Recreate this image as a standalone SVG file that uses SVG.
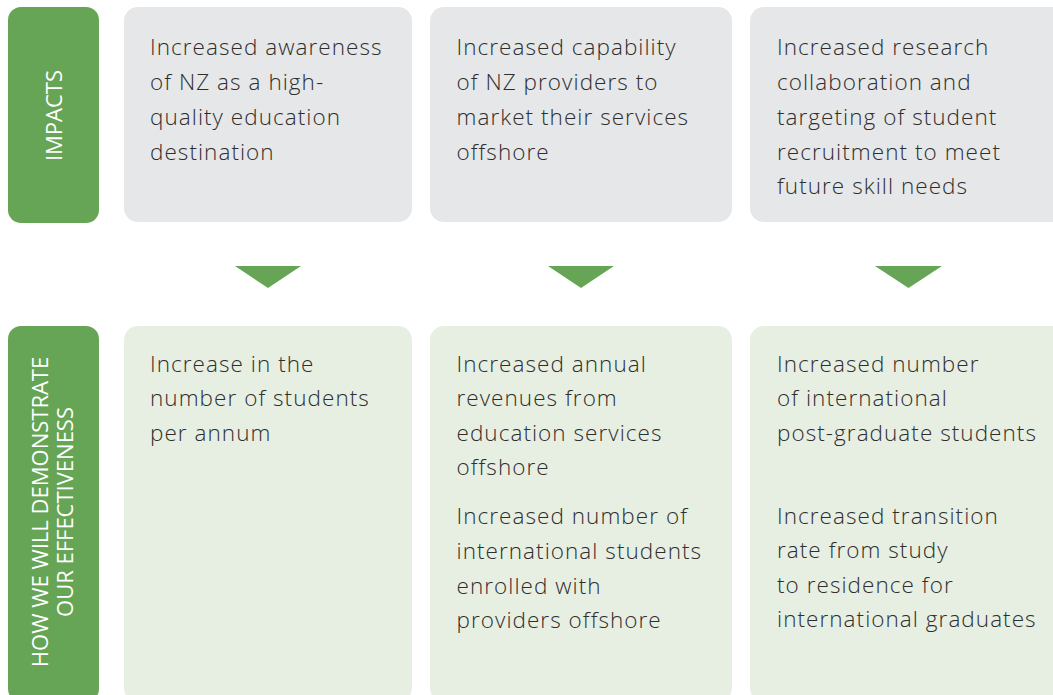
<svg xmlns="http://www.w3.org/2000/svg" width="1053" height="695" viewBox="0 0 1053 695">
<style>
.lbl{fill:#65a555}
.imp{fill:#e6e7e8}
.eff{fill:#e7efe3}
.arr{fill:#65a555}
.lt{font-family:"Open Sans","Noto Sans",sans-serif;font-size:22px;fill:#ffffff;text-anchor:middle}
.bt{font-family:"Open Sans","Noto Sans",sans-serif;font-size:22.5px;font-weight:300;letter-spacing:1.05px;fill:#2e2e2e}
</style>
<rect width="1053" height="695" fill="#ffffff"/>
<g id="label-impacts">
<rect class="lbl" x="8" y="7" width="91" height="216" rx="13"/>
<text class="lt" transform="translate(61.5 115.5) rotate(-90)">IMPACTS</text>
</g>
<g id="label-effectiveness">
<rect class="lbl" x="8" y="326" width="91" height="376" rx="13"/>
<text class="lt" transform="translate(48 512) rotate(-90)">HOW WE WILL DEMONSTRATE</text>
<text class="lt" transform="translate(73 512) rotate(-90)">OUR EFFECTIVENESS</text>
</g>
<g id="impact-1">
<rect class="imp" x="124" y="7" width="288" height="215" rx="14"/>
<text class="bt" x="150" y="55">Increased awareness</text>
<text class="bt" x="150" y="90">of NZ as a high-</text>
<text class="bt" x="150" y="125">quality education</text>
<text class="bt" x="150" y="159.5">destination</text>
</g>
<g id="impact-2">
<rect class="imp" x="430" y="7" width="302" height="215" rx="14"/>
<text class="bt" x="456.5" y="55">Increased capability</text>
<text class="bt" x="456.5" y="90">of NZ providers to</text>
<text class="bt" x="456.5" y="125">market their services</text>
<text class="bt" x="456.5" y="159.5">offshore</text>
</g>
<g id="impact-3">
<rect class="imp" x="750" y="7" width="320" height="215" rx="14"/>
<text class="bt" x="777" y="55">Increased research</text>
<text class="bt" x="777" y="90">collaboration and</text>
<text class="bt" x="777" y="125">targeting of student</text>
<text class="bt" x="777" y="159.5">recruitment to meet</text>
<text class="bt" x="777" y="194">future skill needs</text>
</g>
<g id="connectors">
<polygon class="arr" points="235,266 301,266 268,288"/>
<polygon class="arr" points="548,266 614,266 581,288"/>
<polygon class="arr" points="875,266 942,266 908.5,288"/>
</g>
<g id="measure-1">
<rect class="eff" x="124" y="326" width="288" height="376" rx="14"/>
<text class="bt" x="150" y="371.5">Increase in the</text>
<text class="bt" x="150" y="406">number of students</text>
<text class="bt" x="150" y="440.5">per annum</text>
</g>
<g id="measure-2">
<rect class="eff" x="430" y="326" width="302" height="376" rx="14"/>
<text class="bt" x="456.5" y="371.5">Increased annual</text>
<text class="bt" x="456.5" y="406">revenues from</text>
<text class="bt" x="456.5" y="440.5">education services</text>
<text class="bt" x="456.5" y="475">offshore</text>
<text class="bt" x="456.5" y="524">Increased number of</text>
<text class="bt" x="456.5" y="559">international students</text>
<text class="bt" x="456.5" y="593.5">enrolled with</text>
<text class="bt" x="456.5" y="628">providers offshore</text>
</g>
<g id="measure-3">
<rect class="eff" x="750" y="326" width="320" height="376" rx="14"/>
<text class="bt" x="777" y="371.5">Increased number</text>
<text class="bt" x="777" y="406">of international</text>
<text class="bt" x="777" y="440.5">post-graduate students</text>
<text class="bt" x="777" y="523.5">Increased transition</text>
<text class="bt" x="777" y="558">rate from study</text>
<text class="bt" x="777" y="592.5">to residence for</text>
<text class="bt" x="777" y="627">international graduates</text>
</g>
</svg>
